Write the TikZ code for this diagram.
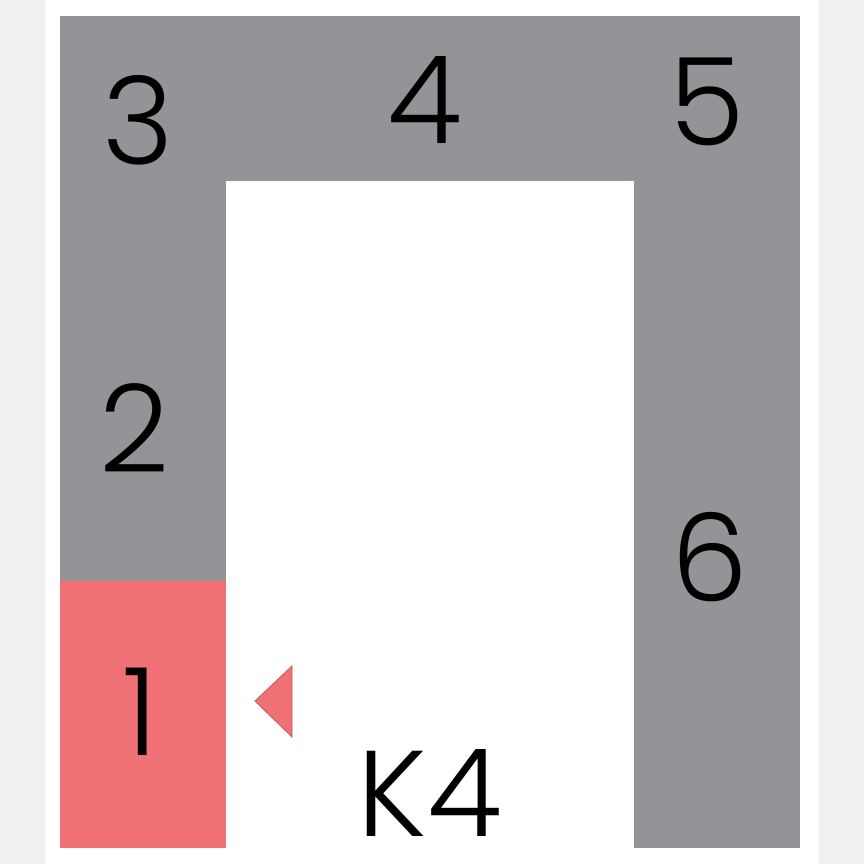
\documentclass[tikz,border=0pt]{standalone}
\usepackage{fontspec}
\setmainfont{Poppins Light}
\usepackage{tikz}
\usetikzlibrary{positioning}
\definecolor{cellgray}{RGB}{147,147,152}
\definecolor{cellred}{RGB}{240,113,115}
\definecolor{pagegray}{RGB}{240,240,240}

\begin{document}
\begin{tikzpicture}[x=1pt,y=-1pt]
			\tikzstyle{CellStyle} = [shape = rectangle, fill = cellgray, draw = none, inner sep = 0pt]
			\tikzstyle{NumStyle}  = [inner sep = 0pt, font = \fontsize{122}{122}\selectfont]
			\useasboundingbox (0,0) rectangle (864,864);
			\fill[pagegray] (0,0) rectangle (864,864);
			\fill[white] (45,0) rectangle (819,864);
			% cells
			\node[CellStyle, minimum width = 166pt, minimum height = 165pt] (c3) at (143,98.5) {};
			\node[CellStyle, minimum width = 408pt, minimum height = 165pt] (c4) at (430,98.5) {};
			\node[CellStyle, minimum width = 166pt, minimum height = 165pt] (c5) at (717,98.5) {};
			\node[CellStyle, minimum width = 166pt, minimum height = 400pt] (c2) at (143,381) {};
			\node[CellStyle, minimum width = 166pt, minimum height = 267pt, fill = cellred] (c1) at (143,714.5) {};
			\node[CellStyle, minimum width = 166pt, minimum height = 667pt] (c6) at (717,514.5) {};
			% numbers
			\node[NumStyle] (n3) at (138,120) {3};
			\node[NumStyle] (n4) at (425,100) {4};
			\node[NumStyle] (n5) at (707,102) {5};
			\node[NumStyle] (n2) at (134,428) {2};
			\node[NumStyle] (n1) at (140,712) {1};
			\node[NumStyle] (n6) at (710,557) {6};
			\node[NumStyle] (k4) at (430,793) {K4};
			\draw[fill = cellred, draw = cellred!80!black, line width = 0.8pt] (255,701) -- (292,666) -- (292,737) -- cycle;
		\end{tikzpicture}
\end{document}
